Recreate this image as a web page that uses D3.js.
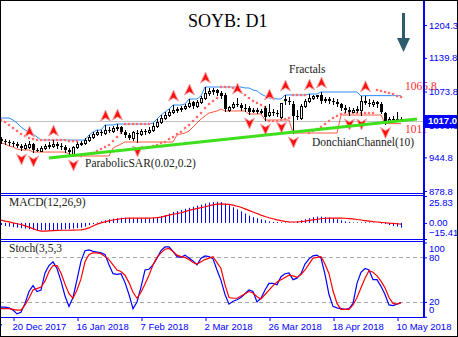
<!DOCTYPE html>
<html>
<head>
<meta charset="utf-8">
<script src="https://cdnjs.cloudflare.com/ajax/libs/d3/7.8.5/d3.min.js"></script>
<style>
body { margin: 0; background: #fff; }
#chart { width: 458px; height: 337px; }
text { font-family: "Liberation Sans", Arial, sans-serif; }
.serif { font-family: "Liberation Serif", "Times New Roman", serif; }
</style>
</head>
<body>
<div id="chart"></div>
<script>
// daily bars, 15 Dec 2017 .. 11 May 2018 (bar index 0..100)
var open = [980.8,976.8,974.9,972.9,970.9,967.0,963.1,965.1,970.9,959.2,
957.2,963.1,967.0,967.0,970.9,967.0,965.1,959.2,951.3,965.1,
970.9,972.9,978.8,984.7,990.6,994.5,992.5,998.4,996.4,1002.3,
1004.3,994.5,988.6,982.7,992.5,990.6,996.4,994.5,998.4,1006.3,
1014.1,1021.9,1027.8,1033.7,1037.6,1039.6,1041.6,1045.5,1053.3,1045.5,
1053.3,1061.2,1071.0,1074.9,1076.9,1071.0,1067.1,1037.6,1043.5,1049.4,
1047.4,1041.6,1041.6,1035.7,1037.6,1033.7,1041.6,1027.8,1033.7,1031.8,
1023.9,1059.2,1055.3,1049.4,1025.9,1021.9,1045.5,1055.3,1061.2,1065.1,
1067.1,1057.3,1059.2,1055.3,1053.3,1049.4,1041.6,1037.6,1033.7,1037.6,
1037.6,1055.3,1051.4,1049.4,1053.3,1049.4,1031.8,1016.1,1020.0,1018.0,
1020.0];
var high = [984.7,980.8,978.8,976.8,974.9,970.9,972.9,976.8,972.9,963.1,
967.0,970.9,974.9,978.8,974.9,972.9,969.0,963.1,967.0,974.9,
976.8,982.7,988.6,994.5,998.4,998.4,1008.2,1004.3,1006.3,1010.2,
1006.3,998.4,992.5,996.4,998.4,1000.4,1000.4,1004.3,1012.1,1020.0,
1027.8,1033.7,1039.6,1047.4,1043.5,1045.5,1049.4,1059.2,1055.3,1057.3,
1065.1,1082.7,1080.8,1080.8,1078.8,1074.9,1071.0,1045.5,1053.3,1061.2,
1051.4,1049.4,1045.5,1041.6,1041.6,1039.6,1045.5,1049.4,1039.6,1037.6,
1051.4,1067.1,1063.1,1055.3,1037.6,1049.4,1059.2,1069.0,1067.1,1067.1,
1073.0,1063.1,1063.1,1061.2,1059.2,1051.4,1047.4,1043.5,1041.6,1045.5,
1065.1,1065.8,1059.2,1057.3,1055.3,1053.3,1033.7,1023.9,1025.9,1033.7,
1023.9];
var low = [972.9,970.9,969.0,967.0,965.1,959.2,961.1,963.1,955.2,957.2,
957.2,961.1,963.1,965.1,963.1,961.1,955.2,951.3,947.4,963.1,
969.0,970.9,976.8,982.7,988.6,988.6,990.6,994.5,994.5,998.4,
992.5,984.7,980.8,978.8,974.9,988.6,990.6,992.5,996.4,1004.3,
1012.1,1020.0,1025.9,1031.8,1033.7,1035.7,1039.6,1043.5,1041.6,1043.5,
1051.4,1059.2,1067.1,1069.0,1067.1,1061.2,1035.7,1035.7,1041.6,1045.5,
1037.6,1035.7,1029.8,1033.7,1031.8,1031.8,1018.0,1025.9,1027.8,1025.9,
1021.9,1049.4,1049.4,992.5,1020.0,1020.0,1043.5,1053.3,1059.2,1061.2,
1051.4,1053.3,1051.4,1049.4,1045.5,1037.6,1033.7,1027.8,1033.7,1033.7,
1027.8,1049.4,1045.5,1045.5,1043.5,1031.8,1011.0,1016.1,1016.1,1016.1,
1016.1];
var close = [976.8,974.9,972.9,970.9,967.0,963.1,969.0,970.9,959.2,957.2,
963.1,967.0,969.0,970.9,967.0,965.1,959.2,955.2,965.1,970.9,
972.9,978.8,984.7,990.6,994.5,992.5,998.4,996.4,1002.3,1004.3,
994.5,988.6,982.7,994.5,990.6,996.4,994.5,998.4,1006.3,1014.1,
1021.9,1027.8,1033.7,1037.6,1039.6,1041.6,1045.5,1051.4,1045.5,1053.3,
1061.2,1071.0,1074.9,1076.9,1071.0,1065.1,1039.6,1043.5,1049.4,1047.4,
1041.6,1039.6,1033.7,1037.6,1033.7,1035.7,1023.9,1033.7,1031.8,1029.8,
1051.4,1055.3,1053.3,1025.9,1023.9,1045.5,1055.3,1061.2,1065.1,1067.1,
1055.3,1059.2,1055.3,1053.3,1049.4,1041.6,1037.6,1033.7,1037.6,1039.6,
1055.3,1051.4,1049.4,1053.3,1049.4,1033.7,1016.1,1020.0,1018.0,1020.0,
1017.0];

// DonchianChannel(10)
var donchianUpper = [1021.9,1021.9,1021.9,1018.0,1012.1,1004.3,998.4,994.5,990.6,984.7,
978.8,978.8,978.8,978.8,978.8,978.8,978.8,978.8,978.8,978.8,
978.8,978.8,988.6,994.5,998.4,998.4,1008.2,1008.2,1008.2,1010.2,
1010.2,1010.2,1010.2,1010.2,1010.2,1010.2,1010.2,1010.2,1012.1,1020.0,
1027.8,1033.7,1039.6,1047.4,1047.4,1047.4,1049.4,1059.2,1059.2,1059.2,
1065.1,1082.7,1082.7,1082.7,1082.7,1082.7,1082.7,1082.7,1082.7,1082.7,
1082.7,1080.8,1080.8,1076.9,1074.9,1069.0,1065.1,1061.2,1061.2,1059.2,
1059.2,1067.1,1067.1,1067.1,1067.1,1067.1,1067.1,1069.0,1069.0,1069.0,
1073.0,1073.0,1073.0,1073.0,1073.0,1073.0,1073.0,1073.0,1073.0,1073.0,
1065.1,1065.8,1065.8,1065.8,1065.8,1065.8,1065.8,1065.8,1065.8,1065.8,
1065.8];
var donchianLower = [972.9,970.9,967.0,965.1,961.1,959.2,959.2,959.2,955.2,955.2,
955.2,955.2,955.2,955.2,955.2,955.2,955.2,951.3,947.4,947.4,
947.4,947.4,947.4,947.4,947.4,947.4,947.4,947.4,963.1,967.0,
970.9,974.9,974.9,974.9,974.9,974.9,974.9,974.9,974.9,974.9,
974.9,974.9,974.9,974.9,988.6,990.6,992.5,996.4,1004.3,1012.1,
1020.0,1025.9,1031.8,1033.7,1035.7,1039.6,1035.7,1035.7,1035.7,1035.7,
1035.7,1035.7,1029.8,1029.8,1029.8,1029.8,1018.0,1018.0,1018.0,1018.0,
1018.0,1018.0,1018.0,992.5,992.5,992.5,992.5,992.5,992.5,992.5,
992.5,992.5,992.5,992.5,992.5,1027.8,1027.8,1027.8,1027.8,1027.8,
1027.8,1027.8,1027.8,1027.8,1027.8,1027.8,1011.0,1011.0,1011.0,1011.0,
1011.0];

// ParabolicSAR(0.02,0.2)
var sar = [1018.0,1014.1,1008.2,1002.3,996.4,990.6,986.6,982.7,980.8,978.8,
978.8,978.8,978.8,978.8,978.8,978.8,978.8,976.8,976.8,976.8,
947.4,949.4,951.3,953.3,957.2,961.1,965.1,969.0,976.8,984.7,
992.5,1010.2,1010.2,1010.2,1010.2,1010.2,1010.2,1010.2,967.0,969.0,
972.9,974.9,980.8,984.7,990.6,994.5,1002.3,1008.2,1016.1,1023.9,
1031.8,1041.6,1049.4,1055.3,1061.2,1082.7,1082.7,1082.7,1080.8,1076.9,
1073.0,1067.1,1061.2,1055.3,1051.4,1047.4,1043.5,1016.1,1016.1,1016.1,
1018.0,1020.0,1021.9,1067.1,1067.1,1067.1,1067.1,992.5,996.4,1000.4,
1004.3,1010.2,1016.1,1021.9,1025.9,1029.8,1031.8,1031.8,1031.8,1031.8,
1031.8,1031.8,1031.8,1031.8,1076.9,1074.9,1073.0,1071.0,1069.0,1065.1,
1063.1];

// Fractals (bar indices)
var fractalUp = [7, 13, 26, 29, 43, 47, 51, 59, 67, 71, 77, 80, 91];
var fractalDown = [5, 8, 18, 34, 62, 66, 70, 73, 87, 90, 96];

// trend line (bar index, price)
var trendBars = [12, 104];
var trendPrices = [943.5, 1020.0];
var lastPrice = 1017.0;

// MACD(12,26,9)
var macdMain = [-2,-3,-3.5,-4,-4.5,-5,-5.5,-6,-6.5,-7,
-7,-7,-7,-6.8,-6.5,-6.5,-6,-6,-5.5,-5,
-4.5,-3.5,-2,-1,0.5,1.5,2.5,3.5,4,4.5,
5,5,4.8,4.5,4.5,4.3,4.3,4.5,4.8,5.5,
6.5,7.5,9,10.5,11.5,12.5,13.5,14.5,15.5,16.5,
17.5,18.5,19.5,20,20.3,20,18.5,17,15,13,
11,9,7,5.5,4.5,3.5,2.5,1.5,1,0.8,
0.6,0.5,0.5,0.5,1.5,2.5,3.5,4.5,5.5,6,
6,5.5,5,4.5,3.5,2.5,1.5,1,0.5,0.5,
0.5,0.8,0.5,0.3,0,-0.5,-1,-2,-3,-3.5,
-4.5];
var macdSignal = [2.7,1.8,1.0,0,-0.8,-1.5,-2.8,-4,-5.5,-7,
-7.8,-7.8,-7.6,-7.4,-7.2,-7.0,-7.0,-7.0,-6.9,-6.8,
-6.6,-6,-4.8,-3,-1.2,0,1,2,2.8,3.5,
4,4.5,4.7,4.7,4.7,4.7,4.7,4.7,4.8,5,
5.5,6.5,7.5,8.3,9,9.8,10.8,12,13,13.8,
14.6,15.5,16.5,17.3,18,18.2,18.1,17.8,17,16,
15,13.5,12,10.5,9,7.5,6.2,5,4,3,
2.2,1.5,1.1,0.9,0.9,1.2,1.8,2.5,3,3.5,
4,4.5,4.7,4.7,4.7,4.6,4.5,4.2,3.8,3.3,
2.8,2.3,1.8,1.3,0.9,0.5,0.2,-0.2,-0.5,-0.8,
-1.1];

// Stoch(3,5,3)
var stochK = [13,13,12,9,4,6,18,34,42,34,
36,59,69,74,65,48,28,14,26,50,
75,89,90,88,87,86,84,70,58,57,
58,46,30,11,20,40,63,64,70,79,
89,94,94,88,81,80,83,79,75,70,
79,82,81,78,63,49,30,17,21,23,
26,31,36,34,20,25,36,45,45,43,
54,58,59,50,52,58,71,78,82,83,
79,57,30,14,12,11,10,11,18,45,
60,65,63,50,50,41,30,16,15,17,
19];
var stochD = [11,11,11,10,9,9,16,25,36,38,
40,48,61,69,69,59,44,31,25,36,
51,74,84,86,86,85,81,77,70,63,
61,56,46,33,25,33,44,56,70,80,
86,91,92,88,83,81,80,77,73,71,
74,77,79,81,73,65,43,26,25,25,
28,31,34,32,27,24,30,36,42,47,
50,53,56,55,53,57,63,71,79,80,
81,71,58,35,18,10,10,10,16,26,
39,52,62,60,55,48,39,26,18,17,
19];

// axes
var priceTicks = [1204.3, 1139.8, 1073.8, 1008.3, 944.8, 878.8];
var macdTicks = [25.83, 0, -15.41];
var stochTicks = [100, 80, 20, 0];
var stochLevels = [80, 20];
var dateTickBars = [-13, 3, 19, 35, 51, 67, 83, 99];
var dateLabels = ["27 Nov 2017", "20 Dec 2017", "16 Jan 2018", "7 Feb 2018",
    "2 Mar 2018", "26 Mar 2018", "18 Apr 2018", "10 May 2018"];

function renderChart(render_id) {
    var W = 458, H = 337, plotRight = 423;
    var blue = "#0000ff";

    var svg = d3.select("#" + render_id)
        .append("svg")
        .attr("width", W)
        .attr("height", H);

    svg.append("rect").attr("width", W).attr("height", H).attr("fill", "#fff");

    var defs = svg.append("defs");
    function clip(id, y0, y1) {
        defs.append("clipPath").attr("id", id)
            .append("rect").attr("x", 0).attr("y", y0).attr("width", plotRight).attr("height", y1 - y0);
        return "url(#" + id + ")";
    }

    var x = d3.scaleLinear().domain([0, 100]).range([1, 401]);
    var y = d3.scaleLinear().domain([878.8, 1204.3]).range([191, 25]);
    var yMacd = d3.scaleLinear().domain([-15.41, 25.83]).range([239, 196]);
    var yStoch = d3.scaleLinear().domain([0, 100]).range([316.8, 242.5]);

    var bars = close.map(function (c, i) {
        return { i: i, o: open[i], h: high[i], l: low[i], c: c };
    });

    // ---------- main panel ----------
    var gMain = svg.append("g").attr("clip-path", clip("clipMain", 1, 193));

    gMain.append("line")
        .attr("x1", 0).attr("x2", plotRight)
        .attr("y1", Math.round(y(lastPrice)) + 0.5).attr("y2", Math.round(y(lastPrice)) + 0.5)
        .attr("stroke", "#c0c0c0");

    gMain.append("path")
        .datum(donchianUpper)
        .attr("fill", "none").attr("stroke", "#2a8cff").attr("stroke-width", 1)
        .attr("d", d3.line().x(function (d, i) { return x(i); }).y(function (d) { return y(d); }));

    gMain.append("path")
        .datum(donchianLower)
        .attr("fill", "none").attr("stroke", "#ff5a3c").attr("stroke-width", 1)
        .attr("d", d3.line().x(function (d, i) { return x(i); }).y(function (d) { return y(d); }));

    gMain.selectAll(".sar")
        .data(sar)
        .enter().append("rect")
        .attr("class", "sar")
        .attr("x", function (d, i) { return x(i) - 1; })
        .attr("y", function (d) { return Math.round(y(d)) - 1; })
        .attr("width", 2).attr("height", 2)
        .attr("fill", "#ff2a2a")
        .attr("stroke", "#ffb0b0").attr("stroke-width", 0.6);

    var candle = gMain.selectAll(".candle")
        .data(bars)
        .enter().append("g")
        .attr("class", "candle");

    candle.append("line")
        .attr("x1", function (d) { return x(d.i) + 0.5; })
        .attr("x2", function (d) { return x(d.i) + 0.5; })
        .attr("y1", function (d) { return Math.round(y(d.h)); })
        .attr("y2", function (d) { return Math.round(y(d.l)) + 1; })
        .attr("stroke", "#000");

    candle.append("rect")
        .attr("x", function (d) { return d.c >= d.o ? x(d.i) - 0.5 : x(d.i) - 1; })
        .attr("width", function (d) { return d.c >= d.o ? 2 : 3; })
        .attr("y", function (d) {
            var t = Math.round(y(Math.max(d.o, d.c)));
            return d.c >= d.o ? t + 0.5 : t;
        })
        .attr("height", function (d) {
            return Math.max(1, Math.round(y(Math.min(d.o, d.c))) - Math.round(y(Math.max(d.o, d.c))));
        })
        .attr("fill", function (d) { return d.c >= d.o ? "#fff" : "#000"; })
        .attr("stroke", function (d) { return d.c >= d.o ? "#000" : "none"; });

    function arrow(cx, cy, dir) {
        // dir = -1 points up, 1 points down
        return "M" + cx + "," + (cy + 6 * dir) +
            "L" + (cx + 5) + "," + (cy - 5 * dir) +
            "L" + cx + "," + (cy - 2 * dir) +
            "L" + (cx - 5) + "," + (cy - 5 * dir) + "Z";
    }

    gMain.selectAll(".fup")
        .data(fractalUp)
        .enter().append("path")
        .attr("d", function (i) { return arrow(x(i) + 0.5, y(high[i]) - 9, -1); })
        .attr("fill", "#ff1010").attr("stroke", "#f5a8a8").attr("stroke-width", 1);

    gMain.selectAll(".fdn")
        .data(fractalDown)
        .enter().append("path")
        .attr("d", function (i) { return arrow(x(i) + 0.5, y(low[i]) + 9, 1); })
        .attr("fill", "#ff1010").attr("stroke", "#f5a8a8").attr("stroke-width", 1);

    gMain.append("line")
        .attr("x1", x(trendBars[0])).attr("y1", y(trendPrices[0]))
        .attr("x2", x(trendBars[1])).attr("y2", y(trendPrices[1]))
        .attr("stroke", "#3ee01e").attr("stroke-width", 3);

    // down arrow
    svg.append("rect").attr("x", 402).attr("y", 13).attr("width", 3).attr("height", 26).attr("fill", "#2d5c6c");
    svg.append("path").attr("d", "M397,38L410,38L403.5,52Z").attr("fill", "#2d5c6c");

    svg.append("text").attr("class", "serif").attr("x", 188).attr("y", 27)
        .style("font-size", "18px").attr("fill", "#000").text("SOYB: D1");

    var notes = [
        { t: "Fractals", x: 289, y: 73, c: "#222" },
        { t: "ParabolicSAR(0.02,0.2)", x: 85, y: 167, c: "#222" },
        { t: "DonchianChannel(10)", x: 312, y: 146, c: "#222" },
        { t: "1065.8", x: 405, y: 90, c: "#ff2a2a" },
        { t: "1011", x: 405, y: 133, c: "#ff2a2a" }
    ];
    svg.selectAll(".note")
        .data(notes)
        .enter().append("text")
        .attr("class", "serif")
        .attr("x", function (d) { return d.x; })
        .attr("y", function (d) { return d.y; })
        .attr("fill", function (d) { return d.c; })
        .style("font-size", "11.5px")
        .text(function (d) { return d.t; });

    // ---------- MACD panel ----------
    var gMacd = svg.append("g").attr("clip-path", clip("clipMacd", 196, 239));
    gMacd.selectAll(".hist")
        .data(macdMain)
        .enter().append("line")
        .attr("x1", function (d, i) { return x(i) + 0.5; })
        .attr("x2", function (d, i) { return x(i) + 0.5; })
        .attr("y1", yMacd(0))
        .attr("y2", function (d) { return yMacd(d); })
        .attr("stroke", blue).attr("stroke-width", 1);
    gMacd.append("path")
        .datum(macdSignal)
        .attr("fill", "none").attr("stroke", "#ff0000").attr("stroke-width", 1.2)
        .attr("d", d3.line().x(function (d, i) { return x(i); }).y(function (d) { return yMacd(d); }));

    svg.append("text").attr("class", "serif").attr("x", 9).attr("y", 206)
        .style("font-size", "11.5px").attr("fill", "#222").text("MACD(12,26,9)");

    // ---------- Stoch panel ----------
    var gSto = svg.append("g").attr("clip-path", clip("clipSto", 242, 317));
    gSto.selectAll(".lvl")
        .data(stochLevels)
        .enter().append("line")
        .attr("x1", 0).attr("x2", plotRight)
        .attr("y1", function (d) { return Math.round(yStoch(d)) + 0.5; })
        .attr("y2", function (d) { return Math.round(yStoch(d)) + 0.5; })
        .attr("stroke", "#a8a8a8").attr("stroke-dasharray", "4,3");
    gSto.append("path")
        .datum(stochK)
        .attr("fill", "none").attr("stroke", blue).attr("stroke-width", 1.2)
        .attr("d", d3.line().x(function (d, i) { return x(i); }).y(function (d) { return yStoch(d); }));
    gSto.append("path")
        .datum(stochD)
        .attr("fill", "none").attr("stroke", "#ff0000").attr("stroke-width", 1.2)
        .attr("d", d3.line().x(function (d, i) { return x(i); }).y(function (d) { return yStoch(d); }));

    svg.append("text").attr("class", "serif").attr("x", 9).attr("y", 252)
        .style("font-size", "11.5px").attr("fill", "#222").text("Stoch(3,5,3");

    // ---------- frames ----------
    [193.5, 195.5, 239.5, 241.5, 317.5].forEach(function (yy) {
        svg.append("line").attr("x1", 0).attr("x2", plotRight + 1)
            .attr("y1", yy).attr("y2", yy).attr("stroke", blue);
    });
    svg.append("line").attr("x1", plotRight + 1).attr("x2", plotRight + 1)
        .attr("y1", 0).attr("y2", 318).attr("stroke", blue).attr("stroke-width", 2);

    function styleAxis(g) {
        g.select(".domain").remove();
        g.selectAll("line").attr("stroke", blue);
        g.selectAll("text").attr("fill", blue).style("font-size", "9.5px")
            .style("font-family", "'Liberation Sans', Arial, sans-serif");
    }

    var axMain = svg.append("g").attr("transform", "translate(" + (plotRight + 1) + ",0)")
        .call(d3.axisRight(y).tickValues(priceTicks).tickSize(3).tickPadding(2).tickFormat(d3.format(".1f")));
    styleAxis(axMain);

    var axMacd = svg.append("g").attr("transform", "translate(" + (plotRight + 1) + ",0)")
        .call(d3.axisRight(yMacd).tickValues(macdTicks).tickSize(3).tickPadding(2).tickFormat(d3.format(".2f")));
    styleAxis(axMacd);
    axMacd.selectAll("text").attr("dy", function (d) { return d === 25.83 ? "0.95em" : d < 0 ? "-0.4em" : "0.32em"; });

    var axSto = svg.append("g").attr("transform", "translate(" + (plotRight + 1) + ",0)")
        .call(d3.axisRight(yStoch).tickValues(stochTicks).tickSize(3).tickPadding(2).tickFormat(d3.format("d")));
    styleAxis(axSto);
    axSto.selectAll("text").attr("dy", function (d) { return d === 100 ? "0.9em" : d === 0 ? "-0.45em" : "0.32em"; });

    // current price box
    var yp = Math.round(y(lastPrice));
    svg.append("rect").attr("x", plotRight + 2).attr("y", yp - 6).attr("width", W - plotRight - 2).attr("height", 13)
        .attr("fill", blue);
    svg.append("text").attr("x", plotRight + 5).attr("y", yp).attr("dy", "0.35em")
        .attr("fill", "#fff").style("font-size", "9.5px").style("font-weight", "bold")
        .text(d3.format(".1f")(lastPrice));

    var axDate = svg.append("g").attr("transform", "translate(0,318)")
        .call(d3.axisBottom(x).tickValues(dateTickBars).tickSize(3).tickPadding(2)
            .tickFormat(function (d, i) { return dateLabels[i]; }));
    styleAxis(axDate);
    axDate.selectAll("text").attr("text-anchor", "start").attr("x", -1);
    axDate.selectAll(".tick line").attr("transform", "translate(0.5,0)");

    svg.append("rect").attr("x", 0.5).attr("y", 0.5).attr("width", W - 1).attr("height", H - 1)
        .attr("fill", "none").attr("stroke", "#000");
}

renderChart("chart");
</script>
</body>
</html>
